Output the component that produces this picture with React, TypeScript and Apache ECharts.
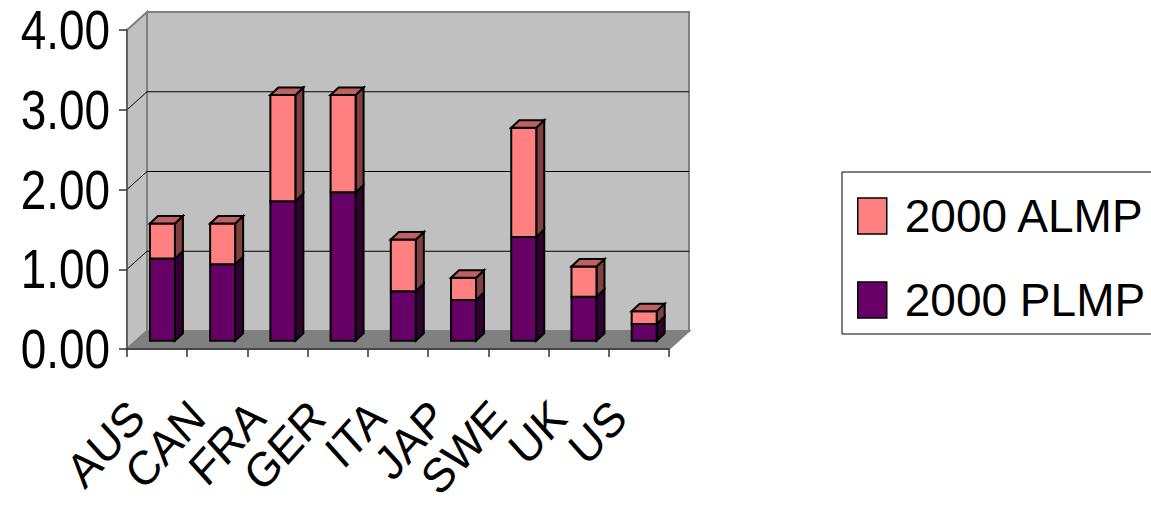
import React, { useEffect, useRef } from "react";
import * as echarts from "echarts";

// Labour market programme spending, % of GDP, year 2000
const categories = ["AUS", "CAN", "FRA", "GER", "ITA", "JAP", "SWE", "UK", "US"];
const plmp = [1.03, 0.96, 1.75, 1.86, 0.62, 0.51, 1.3, 0.55, 0.21];
const almp = [0.44, 0.51, 1.33, 1.22, 0.65, 0.28, 1.37, 0.38, 0.16];
const yTicks = [0, 1, 2, 3, 4];

const seriesNames = ["2000 ALMP", "2000 PLMP"];

// 3D box look
const WALL_DX = 20;
const WALL_DY = 18;
const BAR_SHIFT_X = 5.3;
const BAR_SHIFT_Y = 8.3;
const BAR_HALF = 12.5;
const BAR_DX = 8;
const BAR_DY = 7.5;

// axis lettering
const AXIS_FONT = "Liberation Sans, Arial, sans-serif";
const AXIS_FONT_SIZE = 56;
const CONDENSE = 0.82;
const X_LABEL_SIZE = 48;
const X_CONDENSE = 0.9;

const PLMP_COLORS = { front: "#660066", side: "#330033", top: "#520052" };
const ALMP_COLORS = { front: "#FF8080", side: "#804040", top: "#C06060" };

function makeBarRenderer(colors: { front: string; side: string; top: string }, drawTop: boolean) {
  return (params: any, api: any) => {
    const idx = api.value(0);
    const lo = api.value(1);
    const hi = api.value(2);
    const pLo = api.coord([idx, lo]);
    const pHi = api.coord([idx, hi]);
    const cx = pLo[0] + BAR_SHIFT_X;
    const x0 = cx - BAR_HALF;
    const x1 = cx + BAR_HALF;
    const yb = pLo[1] - BAR_SHIFT_Y;
    const yt = pHi[1] - BAR_SHIFT_Y;
    const stroke = { stroke: "#000", lineWidth: 2, lineJoin: "miter" };
    const children: any[] = [
      {
        type: "polygon",
        shape: { points: [[x1, yt], [x1 + BAR_DX, yt - BAR_DY], [x1 + BAR_DX, yb - BAR_DY], [x1, yb]] },
        style: { fill: colors.side, ...stroke },
      },
      {
        type: "polygon",
        shape: { points: [[x0, yt], [x1, yt], [x1, yb], [x0, yb]] },
        style: { fill: colors.front, ...stroke },
      },
    ];
    if (drawTop) {
      children.push({
        type: "polygon",
        shape: { points: [[x0, yt], [x0 + BAR_DX, yt - BAR_DY], [x1 + BAR_DX, yt - BAR_DY], [x1, yt]] },
        style: { fill: colors.top, ...stroke },
      });
    }
    return { type: "group", children };
  };
}

function renderWalls(params: any, api: any) {
  const cs = params.coordSys;
  const left = cs.x;
  const right = cs.x + cs.width;
  const top = api.coord([0, yTicks[yTicks.length - 1]])[1];
  const bottom = api.coord([0, 0])[1];
  const wallStroke = "#808080";
  const children: any[] = [
    {
      type: "polygon",
      shape: {
        points: [
          [left + WALL_DX, top - WALL_DY],
          [right + WALL_DX, top - WALL_DY],
          [right + WALL_DX, bottom - WALL_DY],
          [left + WALL_DX, bottom - WALL_DY],
        ],
      },
      style: { fill: "#C0C0C0", stroke: wallStroke, lineWidth: 2 },
    },
    {
      type: "polygon",
      shape: {
        points: [
          [left, top],
          [left + WALL_DX, top - WALL_DY],
          [left + WALL_DX, bottom - WALL_DY],
          [left, bottom],
        ],
      },
      style: { fill: "#C0C0C0", stroke: wallStroke, lineWidth: 2 },
    },
    {
      type: "polygon",
      shape: {
        points: [
          [left, bottom],
          [right, bottom],
          [right + WALL_DX, bottom - WALL_DY],
          [left + WALL_DX, bottom - WALL_DY],
        ],
      },
      style: { fill: "#808080", stroke: wallStroke, lineWidth: 2 },
    },
  ];
  yTicks.slice(1, -1).forEach((v) => {
    const y = api.coord([0, v])[1];
    children.push({
      type: "polyline",
      shape: { points: [[left, y], [left + WALL_DX, y - WALL_DY], [right + WALL_DX, y - WALL_DY]] },
      style: { fill: "none", stroke: "#000", lineWidth: 1 },
    });
  });
  return { type: "group", children };
}

// Value-axis tick labels, placed on the axis scale
function renderYLabel(params: any, api: any) {
  const v = api.value(1);
  const p = api.coord([0, v]);
  return {
    type: "text",
    x: params.coordSys.x - 17,
    y: p[1],
    scaleX: CONDENSE,
    style: {
      text: v.toFixed(2),
      align: "right",
      verticalAlign: "middle",
      fontFamily: AXIS_FONT,
      fontSize: AXIS_FONT_SIZE,
      fill: "#000",
    },
  };
}

// Slanted category labels under each category slot
function renderXLabel(params: any, api: any) {
  const i = api.value(0);
  const p = api.coord([i, 0]);
  return {
    type: "group",
    x: p[0] - 20,
    y: p[1] + 60,
    scaleX: X_CONDENSE,
    children: [
      {
        type: "text",
        x: 0,
        y: 0,
        rotation: Math.PI / 4,
        style: {
          text: categories[i],
          align: "right",
          verticalAlign: "middle",
          fontFamily: AXIS_FONT,
          fontSize: X_LABEL_SIZE,
          fill: "#000",
        },
      },
    ],
  };
}

export default function App() {
  const ref = useRef<HTMLDivElement>(null);

  useEffect(() => {
    if (!ref.current) return;
    const chart = echarts.init(ref.current, undefined, { renderer: "svg" });

    const plmpData = categories.map((_, i) => [i, 0, plmp[i]]);
    const almpData = categories.map((_, i) => [i, plmp[i], plmp[i] + almp[i]]);

    chart.setOption({
      animation: false,
      backgroundColor: "#FFFFFF",
      grid: { left: 127, top: 30, width: 542, height: 319, containLabel: false, outerBoundsMode: "none" },
      legend: {
        orient: "vertical",
        left: 842,
        top: 172,
        icon: "rect",
        itemWidth: 29,
        itemHeight: 36,
        itemGap: 38,
        padding: [21, 30, 11, 15],
        borderColor: "#000",
        borderWidth: 1,
        backgroundColor: "#FFFFFF",
        selectedMode: false,
        textStyle: {
          fontFamily: "Liberation Sans, Arial, sans-serif",
          fontSize: 46,
          color: "#000",
          padding: [0, 0, 0, 13],
        },
        data: [
          { name: seriesNames[0], itemStyle: { color: ALMP_COLORS.front, borderColor: "#000", borderWidth: 1.5 } },
          { name: seriesNames[1], itemStyle: { color: PLMP_COLORS.front, borderColor: "#000", borderWidth: 1.5 } },
        ],
      },
      xAxis: {
        type: "category",
        data: categories,
        z: 10,
        axisLine: { show: true, lineStyle: { color: "#333", width: 1.5 } },
        axisTick: { show: true, length: 8, interval: 0, lineStyle: { color: "#333", width: 1.5 } },
        axisLabel: { show: false },
        splitLine: { show: false },
      },
      yAxis: {
        type: "value",
        min: 0,
        max: 4,
        interval: 1,
        z: 10,
        axisLine: { show: true, lineStyle: { color: "#555", width: 1.5 } },
        axisTick: { show: true, inside: false, length: 8, lineStyle: { color: "#333", width: 1.5 } },
        axisLabel: { show: false },
        splitLine: { show: false },
      },
      series: [
        {
          type: "custom",
          name: "walls",
          z: 1,
          silent: true,
          renderItem: renderWalls,
          data: [[0, 0]],
          encode: { x: 0, y: 1 },
        },
        {
          type: "custom",
          name: "yLabels",
          z: 5,
          silent: true,
          clip: false,
          renderItem: renderYLabel,
          data: yTicks.map((v) => [0, v]),
          encode: { x: 0, y: 1 },
        },
        {
          type: "custom",
          name: "xLabels",
          z: 5,
          silent: true,
          clip: false,
          renderItem: renderXLabel,
          data: categories.map((_, i) => [i, 0]),
          encode: { x: 0, y: 1 },
        },
        {
          type: "custom",
          name: seriesNames[1],
          z: 3,
          itemStyle: { color: PLMP_COLORS.front },
          renderItem: makeBarRenderer(PLMP_COLORS, false),
          data: plmpData,
          encode: { x: 0, y: [1, 2] },
        },
        {
          type: "custom",
          name: seriesNames[0],
          z: 4,
          itemStyle: { color: ALMP_COLORS.front },
          renderItem: makeBarRenderer(ALMP_COLORS, true),
          data: almpData,
          encode: { x: 0, y: [1, 2] },
        },
      ],
    });

    return () => chart.dispose();
  }, []);

  return (
    <div
      ref={ref}
      style={{ position: "fixed", left: 0, top: 0, width: 1151, height: 509 }}
    />
  );
}
